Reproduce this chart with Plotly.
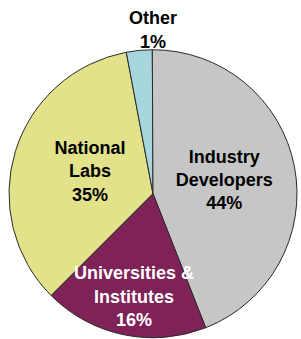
import plotly.graph_objects as go

# Categories and values, clockwise from the lower-left boundary
categories = ["National<br>Labs", "Other", "Industry<br>Developers", "Universities &<br>Institutes"]
slice_values = [34.6, 2.9, 44.2, 18.5]      # slice sizes
shown_pct = ["35%", "1%", "44%", "16%"]     # percentages printed on the chart

colors = ["#e2e28a", "#a8d6de", "#c6c6c6", "#7e2258"]
text_colors = ["#000000", "#000000", "#000000", "#ffffff"]

NB = "&nbsp;"
# label text for each slice (small padding nudges the text like the original)
slice_text = []
for cat, pct in zip(categories, shown_pct):
    lines = cat.split("<br>") + [pct]
    if cat.startswith("National"):
        lines = [NB * 4 + ln for ln in lines]
    if cat.startswith("Universities"):
        lines = [NB] + lines
    slice_text.append("<br>".join(lines))

other_idx = categories.index("Other")
title_text = "<b>" + categories[other_idx] + "<br>" + shown_pct[other_idx] + "</b>"

fig = go.Figure(go.Pie(
    labels=categories,
    values=slice_values,
    text=slice_text,
    texttemplate="%{text}",
    textinfo="text",
    sort=False,
    direction="clockwise",
    rotation=225,
    marker=dict(colors=colors, line=dict(color="#2a2a2a", width=1)),
    textposition=["inside", "none", "inside", "inside"],
    insidetextorientation="horizontal",
    insidetextfont=dict(family="Liberation Sans", size=18, color=text_colors, weight="bold"),
    textfont=dict(family="Liberation Sans", size=18, weight="bold"),
    title=dict(text=title_text, position="top center",
               font=dict(family="Liberation Sans", size=18, color="#000000")),
    showlegend=False,
    hoverinfo="skip",
    domain=dict(x=[0.0299, 0.9867], y=[0.003, 0.982]),
))

fig.update_layout(
    width=301, height=339,
    margin=dict(l=0, r=0, t=0, b=0),
    paper_bgcolor="white",
    plot_bgcolor="white",
    uniformtext=dict(minsize=18, mode="show"),
    font=dict(family="Liberation Sans"),
)

fig.write_html("out.html", config={"displayModeBar": False},
               post_script="document.body.style.margin='0';")
